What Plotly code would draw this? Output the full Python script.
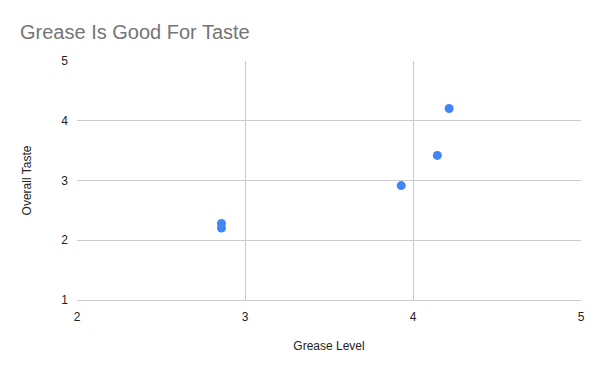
import plotly.graph_objects as go

grease_level = [2.86, 2.86, 3.93, 4.145, 4.215]
overall_taste = [2.28, 2.205, 2.915, 3.42, 4.205]
x_ticks = [2, 3, 4, 5]
y_ticks = [1, 2, 3, 4, 5]

fig = go.Figure(go.Scatter(
    x=grease_level, y=overall_taste, mode="markers",
    marker=dict(color="#4285F4", size=9, line=dict(width=0)),
    showlegend=False,
))

fig.update_layout(
    width=600, height=371,
    margin=dict(l=77, r=19, t=61, b=71),
    paper_bgcolor="white", plot_bgcolor="white",
    font=dict(family="Liberation Sans, Arial, sans-serif", color="#222222", size=12),
    title=dict(text="Grease Is Good For Taste", x=20/600, xanchor="left",
               y=1 - 32/371, yanchor="middle",
               font=dict(size=20, color="#757575")),
)
fig.update_xaxes(range=[2, 5], tickvals=x_ticks, showgrid=True, gridcolor="#cccccc",
                 zeroline=False, showline=True, linecolor="#cccccc", mirror=False,
                 ticks="", tickfont=dict(size=12), ticklabelstandoff=6,
                 title=dict(text="Grease Level", font=dict(size=12), standoff=18))
fig.update_yaxes(range=[1, 5], tickvals=y_ticks, showgrid=True, gridcolor="#cccccc",
                 zeroline=False, showline=False, ticks="", tickfont=dict(size=12),
                 ticklabelstandoff=8,
                 title=dict(text="Overall Taste", font=dict(size=12), standoff=27))

fig.write_html("out.html", config={"displayModeBar": False},
               post_script="document.body.style.margin='0';document.body.style.overflow='hidden';")
